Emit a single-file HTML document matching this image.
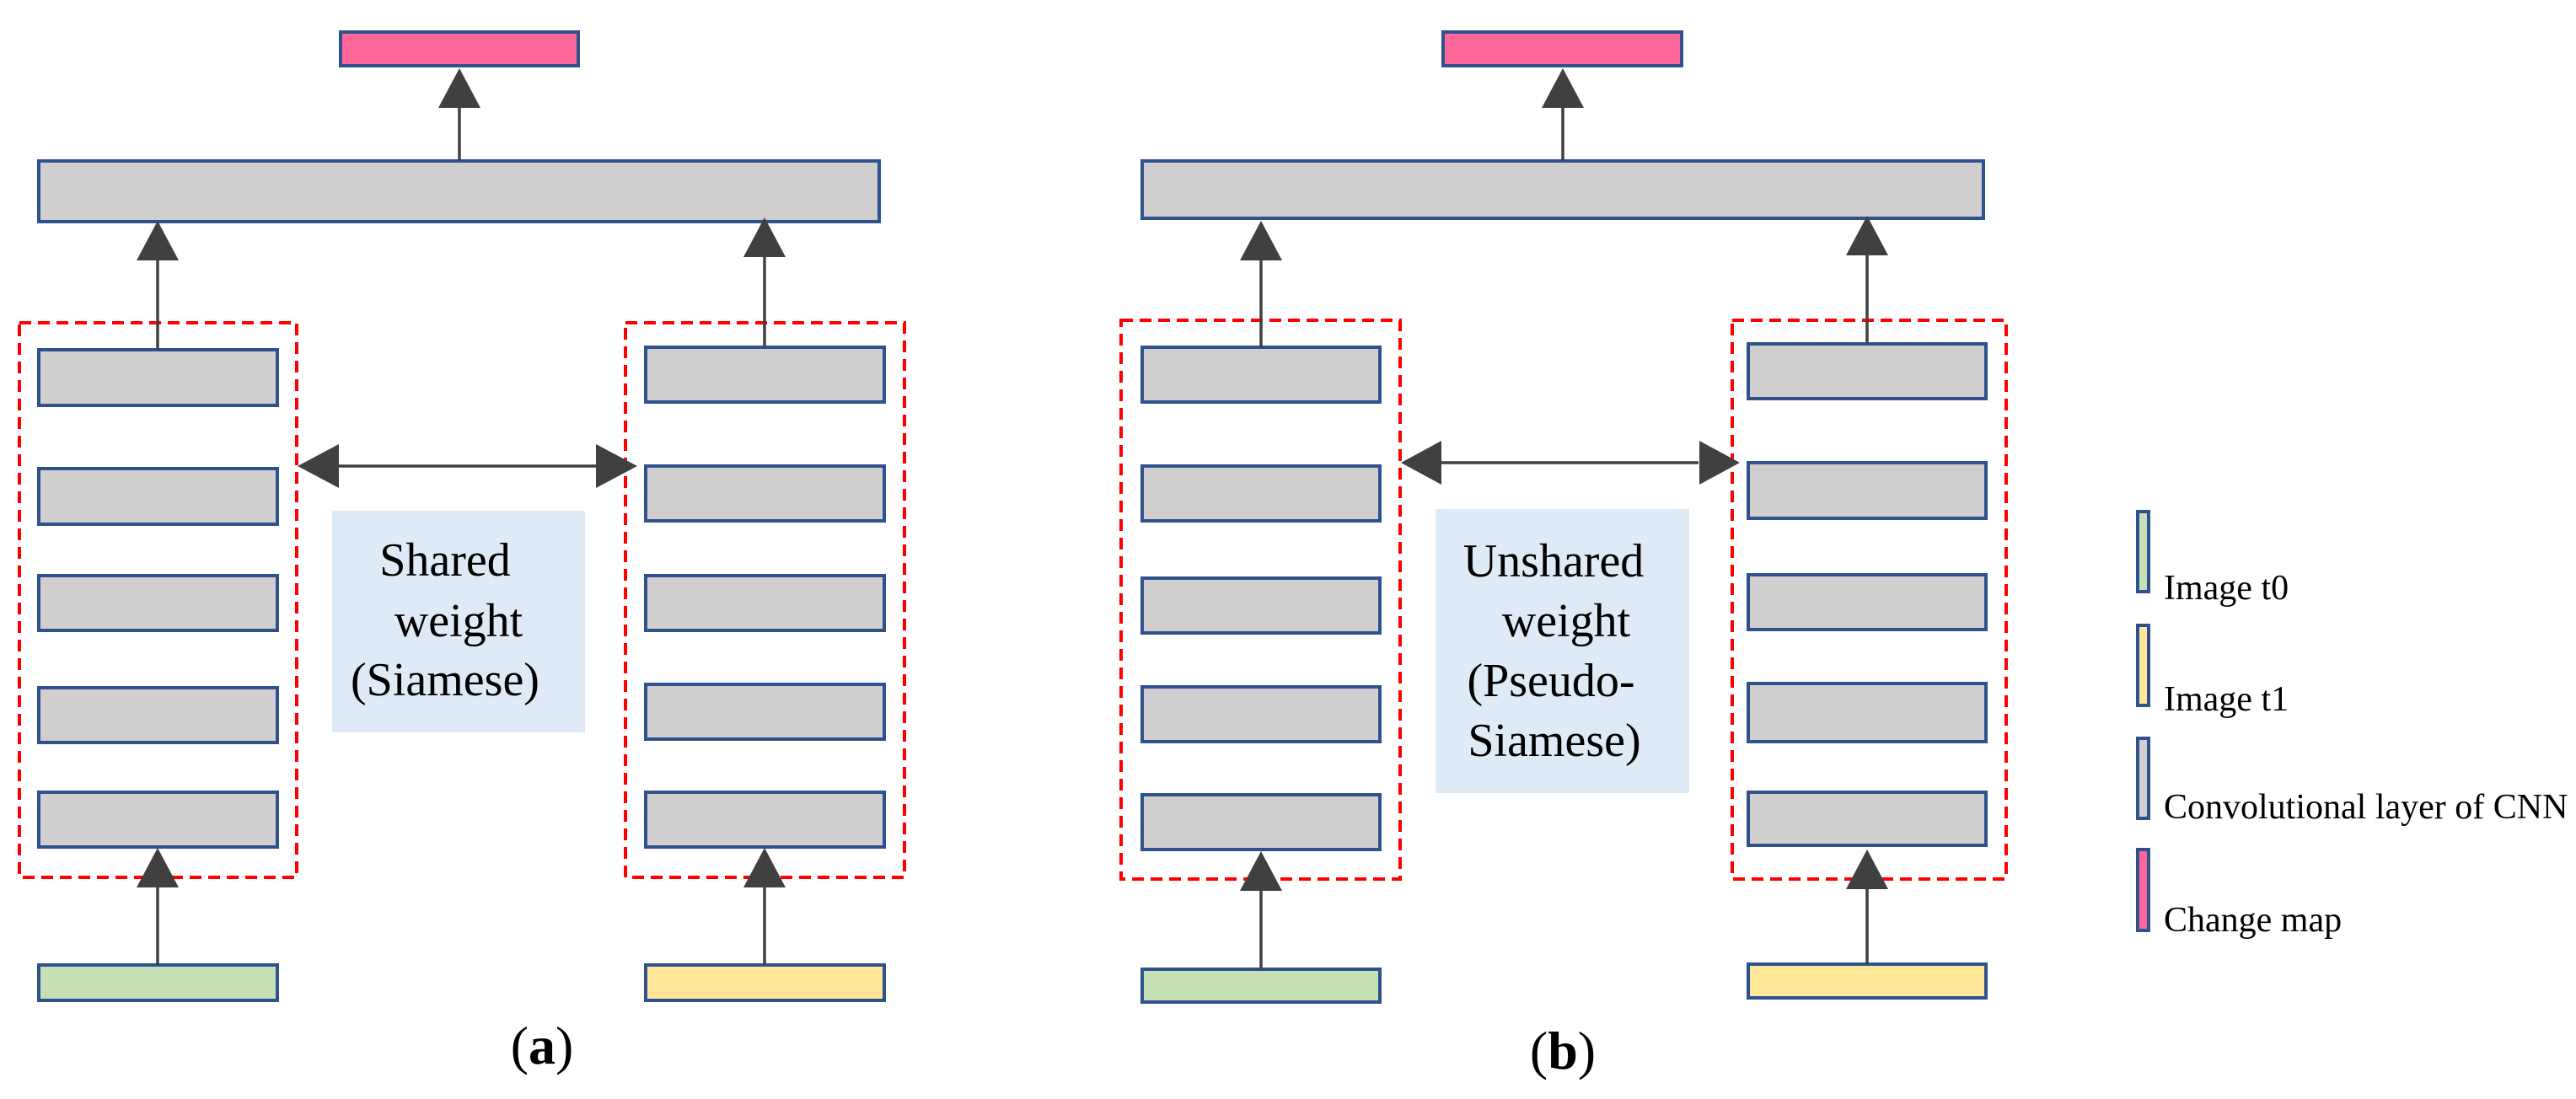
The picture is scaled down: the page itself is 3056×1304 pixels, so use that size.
<!DOCTYPE html>
<html><head><meta charset="utf-8"><style>
html,body{margin:0;padding:0;background:#fff;}
svg{display:block;}
</style></head><body>
<svg width="3056" height="1304" viewBox="0 0 3056 1304" xmlns="http://www.w3.org/2000/svg">
<defs>
<g id="up"><polygon points="0,0 -25,47 25,47" fill="#404040"/></g>
</defs>
<g stroke="#2f528f" stroke-width="4">
<rect x="404" y="38" width="282" height="40" fill="#ff6699"/>
<rect x="46" y="191" width="997" height="72" fill="#d0cece"/>
<rect x="46" y="415" width="283" height="66" fill="#d0cece"/>
<rect x="46" y="556" width="283" height="66" fill="#d0cece"/>
<rect x="46" y="683" width="283" height="65" fill="#d0cece"/>
<rect x="46" y="816" width="283" height="65" fill="#d0cece"/>
<rect x="46" y="940" width="283" height="65" fill="#d0cece"/>
<rect x="766" y="412" width="283" height="65" fill="#d0cece"/>
<rect x="766" y="553" width="283" height="65" fill="#d0cece"/>
<rect x="766" y="683" width="283" height="65" fill="#d0cece"/>
<rect x="766" y="812" width="283" height="65" fill="#d0cece"/>
<rect x="766" y="940" width="283" height="65" fill="#d0cece"/>
<rect x="46" y="1145" width="283" height="42" fill="#c5e0b4"/>
<rect x="766" y="1145" width="283" height="42" fill="#ffe699"/>
<rect x="1712" y="38" width="283" height="40" fill="#ff6699"/>
<rect x="1355" y="191" width="998" height="68" fill="#d0cece"/>
<rect x="1355" y="412" width="282" height="65" fill="#d0cece"/>
<rect x="1355" y="553" width="282" height="65" fill="#d0cece"/>
<rect x="1355" y="686" width="282" height="65" fill="#d0cece"/>
<rect x="1355" y="815" width="282" height="65" fill="#d0cece"/>
<rect x="1355" y="943" width="282" height="65" fill="#d0cece"/>
<rect x="2074" y="408" width="282" height="65" fill="#d0cece"/>
<rect x="2074" y="549" width="282" height="66" fill="#d0cece"/>
<rect x="2074" y="682" width="282" height="65" fill="#d0cece"/>
<rect x="2074" y="811" width="282" height="69" fill="#d0cece"/>
<rect x="2074" y="940" width="282" height="63" fill="#d0cece"/>
<rect x="1355" y="1150" width="282" height="39" fill="#c5e0b4"/>
<rect x="2074" y="1144" width="282" height="40" fill="#ffe699"/>
<rect x="2536" y="607" width="13" height="95" fill="#c5e0b4"/>
<rect x="2536" y="742" width="13" height="95" fill="#ffe699"/>
<rect x="2536" y="876" width="13" height="95" fill="#d0cece"/>
<rect x="2536" y="1008" width="13" height="96" fill="#ff6699"/>
</g>
<g fill="none" stroke="#ff0000" stroke-width="4" stroke-dasharray="14,8">
<rect x="23" y="383" width="329" height="658"/>
<rect x="742" y="383" width="331" height="658"/>
<rect x="1330" y="380" width="331" height="663"/>
<rect x="2055" y="380" width="325" height="663"/>
</g>
<rect x="394" y="606" width="300" height="263" fill="#deebf7"/>
<rect x="1703" y="604" width="301" height="337" fill="#deebf7"/>
<g stroke="#404040" stroke-width="3.5">
<line x1="545" y1="120" x2="545" y2="191"/>
<line x1="187" y1="300" x2="187" y2="415"/>
<line x1="907" y1="300" x2="907" y2="412"/>
<line x1="187" y1="1045" x2="187" y2="1145"/>
<line x1="907" y1="1045" x2="907" y2="1145"/>
<line x1="400" y1="553" x2="710" y2="553"/>
<line x1="1854" y1="120" x2="1854" y2="191"/>
<line x1="1496" y1="300" x2="1496" y2="412"/>
<line x1="2215" y1="300" x2="2215" y2="408"/>
<line x1="1496" y1="1045" x2="1496" y2="1150"/>
<line x1="2215" y1="1045" x2="2215" y2="1144"/>
<line x1="1710" y1="549" x2="2015" y2="549"/>
</g>
<g fill="#404040">
<use href="#up" x="545" y="81"/>
<use href="#up" x="187" y="262"/>
<use href="#up" x="907" y="258"/>
<use href="#up" x="187" y="1006"/>
<use href="#up" x="907" y="1006"/>
<use href="#up" x="1854" y="81"/>
<use href="#up" x="1496" y="262"/>
<use href="#up" x="2215" y="256"/>
<use href="#up" x="1496" y="1010"/>
<use href="#up" x="2215" y="1008"/>
<polygon points="353,553 402,527 402,579"/>
<polygon points="756,553 707,527 707,579"/>
<polygon points="1662,549 1710,523 1710,575"/>
<polygon points="2064,549 2016,523 2016,575"/>
</g>
<g font-family="Liberation Serif, serif" style="font-family:'Liberation Serif',serif" fill="#000">
<g font-size="56">
<text x="528" y="683" text-anchor="middle">Shared</text>
<text x="544" y="755" text-anchor="middle">weight</text>
<text x="528" y="825" text-anchor="middle">(Siamese)</text>
<text x="1843" y="684" text-anchor="middle">Unshared</text>
<text x="1858" y="755" text-anchor="middle">weight</text>
<text x="1840" y="826" text-anchor="middle">(Pseudo-</text>
<text x="1844" y="897" text-anchor="middle">Siamese)</text>
</g>
<text x="643" y="1262" font-size="64" text-anchor="middle">(<tspan font-weight="bold">a</tspan>)</text>
<text x="1854" y="1268" font-size="64" text-anchor="middle">(<tspan font-weight="bold">b</tspan>)</text>
<g font-size="42">
<text x="2567" y="711">Image t0</text>
<text x="2567" y="843">Image t1</text>
<text x="2567" y="971">Convolutional layer of CNN</text>
<text x="2567" y="1105">Change map</text>
</g>
</g>
</svg>
</body></html>
